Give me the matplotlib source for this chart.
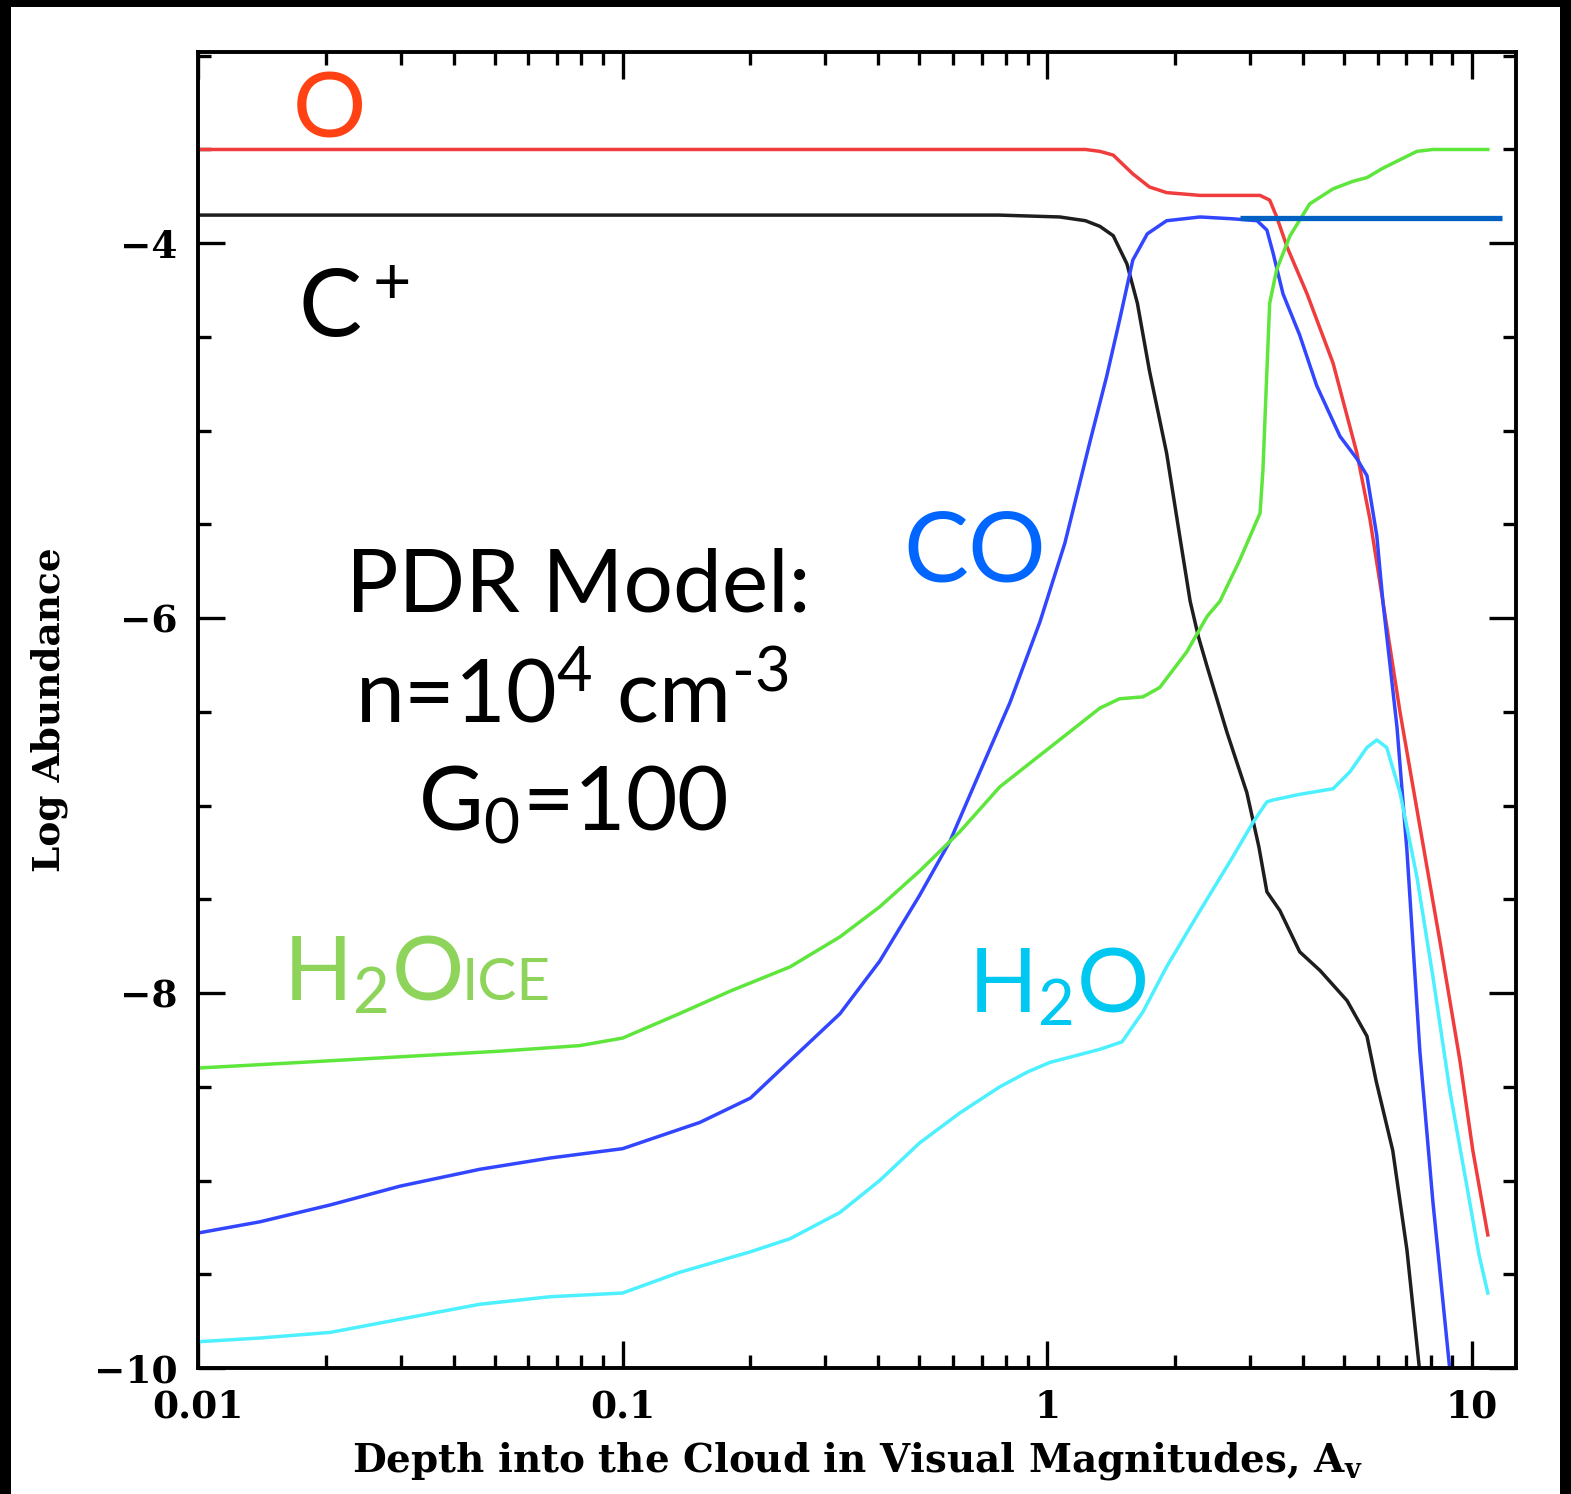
import matplotlib.pyplot as plt
from matplotlib.patches import Rectangle
from matplotlib.ticker import FixedLocator, LogLocator, MultipleLocator, NullFormatter

# ─────────────────────────────────────────────
# PDR MODEL ABUNDANCES  (A_v, log abundance)
# ─────────────────────────────────────────────

av_o = [0.01, 0.1, 0.5, 1.0, 1.23, 1.33, 1.43, 1.59, 1.74, 1.91, 2.29, 3.17, 3.34,
        3.47, 3.67, 4.09, 4.71, 5.36, 5.75, 6.17, 6.77, 7.54, 8.40, 9.37, 10.05, 10.9]
log_o = [-3.50, -3.50, -3.50, -3.50, -3.50, -3.51, -3.53, -3.63, -3.70, -3.73, -3.745,
         -3.745, -3.77, -3.86, -4.02, -4.27, -4.64, -5.12, -5.47, -5.91, -6.50, -7.11,
         -7.72, -8.36, -8.84, -9.29]

av_cp = [0.01, 0.1, 0.77, 1.07, 1.23, 1.33, 1.43, 1.54, 1.63, 1.74, 1.91, 2.05, 2.17,
         2.27, 2.38, 2.65, 2.95, 3.15, 3.29, 3.53, 3.93, 4.39, 5.08, 5.66, 5.95, 6.51,
         7.03, 7.6]
log_cp = [-3.85, -3.85, -3.85, -3.86, -3.88, -3.91, -3.96, -4.11, -4.32, -4.68, -5.12,
          -5.56, -5.91, -6.10, -6.26, -6.61, -6.93, -7.22, -7.46, -7.56, -7.78, -7.88,
          -8.04, -8.23, -8.47, -8.84, -9.37, -10.1]

av_co = [0.01, 0.014, 0.0205, 0.0299, 0.0461, 0.0674, 0.1, 0.152, 0.2, 0.248, 0.325,
         0.403, 0.5, 0.59, 0.694, 0.817, 0.961, 1.10, 1.26, 1.38, 1.48, 1.59, 1.72,
         1.91, 2.29, 2.74, 3.12, 3.29, 3.40, 3.59, 3.93, 4.31, 4.89, 5.36, 5.66, 5.97,
         6.17, 6.66, 7.03, 7.54, 8.09, 8.87]
log_co = [-9.28, -9.22, -9.13, -9.03, -8.94, -8.88, -8.83, -8.69, -8.56, -8.36, -8.11,
          -7.83, -7.48, -7.19, -6.82, -6.45, -6.02, -5.60, -5.06, -4.71, -4.41, -4.09,
          -3.95, -3.88, -3.86, -3.87, -3.88, -3.93, -4.05, -4.27, -4.49, -4.76, -5.03,
          -5.15, -5.24, -5.56, -5.91, -6.58, -7.24, -8.31, -9.11, -10.01]

av_ice = [0.01, 0.0174, 0.0299, 0.0514, 0.0794, 0.1, 0.136, 0.179, 0.248, 0.325, 0.403,
          0.5, 0.622, 0.773, 1.014, 1.33, 1.48, 1.68, 1.84, 2.13, 2.38, 2.55, 2.84, 3.17,
          3.22, 3.29, 3.34, 3.47, 3.73, 4.15, 4.71, 5.24, 5.66, 6.17, 7.42, 8.09, 10.9]
log_ice = [-8.40, -8.37, -8.34, -8.31, -8.28, -8.24, -8.11, -7.99, -7.86, -7.70, -7.54,
           -7.35, -7.14, -6.90, -6.69, -6.48, -6.43, -6.42, -6.37, -6.18, -5.99, -5.91,
           -5.69, -5.44, -5.21, -4.68, -4.32, -4.14, -3.96, -3.79, -3.71, -3.67, -3.65,
           -3.60, -3.51, -3.50, -3.50]

av_h2o = [0.01, 0.014, 0.0205, 0.0299, 0.0461, 0.0674, 0.1, 0.136, 0.2, 0.248, 0.325,
          0.403, 0.5, 0.622, 0.773, 0.9, 1.014, 1.33, 1.50, 1.68, 1.91, 2.29, 2.74, 3.05,
          3.29, 3.40, 3.93, 4.71, 5.16, 5.66, 5.97, 6.30, 6.77, 7.42, 8.09, 8.87, 9.73,
          10.4, 10.9]
log_h2o = [-9.86, -9.84, -9.81, -9.74, -9.66, -9.62, -9.60, -9.49, -9.38, -9.31, -9.17,
           -9.00, -8.80, -8.64, -8.50, -8.42, -8.37, -8.30, -8.26, -8.10, -7.86, -7.56,
           -7.27, -7.09, -6.98, -6.97, -6.94, -6.91, -6.82, -6.69, -6.65, -6.69, -6.93,
           -7.38, -7.91, -8.52, -9.03, -9.40, -9.60]

# CO saturation marker
av_mark = [2.84, 11.8]
log_mark = [-3.867, -3.867]

x_ticks = [0.01, 0.1, 1, 10]
x_labels = ["0.01", "0.1", "1", "10"]
y_ticks = [-10, -8, -6, -4]
y_labels = ["\u221210", "\u22128", "\u22126", "\u22124"]

# ─────────────────────────────────────────────
# FIGURE
# ─────────────────────────────────────────────

W, H = 1571, 1494

plt.rcParams["mathtext.fontset"] = "custom"
plt.rcParams["mathtext.rm"] = "Lato"
plt.rcParams["mathtext.it"] = "Lato:italic"
plt.rcParams["mathtext.bf"] = "Lato:bold"
plt.rcParams["mathtext.default"] = "regular"

fig = plt.figure(figsize=(W / 100, H / 100), dpi=100, facecolor="black")
fig.patches.append(Rectangle((11 / W, 0), (1560 - 11) / W, (H - 7) / H,
                             transform=fig.transFigure, facecolor="white",
                             edgecolor="none", zorder=-5))

ax = fig.add_axes([198 / W, 1 - 1368 / H, (1516 - 198) / W, (1368 - 52) / H])
ax.set_facecolor("white")

ax.plot(av_cp, log_cp, color="#1e1e1e", lw=2.5)
ax.plot(av_o, log_o, color="#f03c3c", lw=2.5)
ax.plot(av_co, log_co, color="#3346ff", lw=2.5)
ax.plot(av_ice, log_ice, color="#5ee63c", lw=2.5)
ax.plot(av_h2o, log_h2o, color="#4cf0ff", lw=2.5)
ax.plot(av_mark, log_mark, color="#0061c2", lw=3.8, solid_capstyle="butt")

ax.set_xscale("log")
ax.set_xlim(0.01, 12.7)
ax.set_ylim(-10, -2.98)

ax.xaxis.set_major_locator(FixedLocator(x_ticks))
ax.set_xticklabels(x_labels)
ax.xaxis.set_minor_locator(LogLocator(base=10, subs=range(2, 10)))
ax.xaxis.set_minor_formatter(NullFormatter())
ax.yaxis.set_major_locator(FixedLocator(y_ticks))
ax.set_yticklabels(y_labels)
ax.yaxis.set_minor_locator(MultipleLocator(0.5))

ax.tick_params(which="both", direction="in", top=True, right=True, width=2.4,
               labelsize=27, pad=15)
ax.tick_params(which="major", length=19.5)
ax.tick_params(which="minor", length=9.5)
for lab in ax.get_xticklabels() + ax.get_yticklabels():
    lab.set_family("DejaVu Serif")
    lab.set_weight("bold")

for spine in ax.spines.values():
    spine.set_linewidth(2.8)

ax.set_xlabel("Depth into the Cloud in Visual Magnitudes, A$_\\mathbf{v}$",
              family="DejaVu Serif", fontsize=28, weight="bold",
              math_fontfamily="dejavuserif")
ax.set_ylabel("Log Abundance", family="DejaVu Serif", fontsize=27, weight="bold")
ax.xaxis.set_label_coords(0.5, -0.055)
ax.yaxis.set_label_coords(-0.0986, 0.5)


# species labels, placed by pixel baseline
def label(x, y, s, size, color, ha="left"):
    fig.text(x / W, 1 - y / H, s, fontsize=size, color=color, family="Lato",
             ha=ha, va="baseline", math_fontfamily="custom")


label(293, 137, "O", 66, "#ff4114")
label(298, 338, "C$^+$", 68, "black")
label(578, 612, "PDR Model:", 63, "black", ha="center")
label(572, 722, "n=10$^4$ cm$^{\u20103}$", 63, "black", ha="center")
label(573, 830, "G$_0$=100", 64, "black", ha="center")
label(903, 582, "CO", 70, "#0066ff")
label(283, 1000, "H$_2$O", 65, "#8fd45a")
label(462, 1000, "ICE", 42, "#8fd45a")
label(968, 1012, "H$_2$O", 65, "#00c8f0")

fig.savefig("out.png", dpi=100, facecolor=fig.get_facecolor())
